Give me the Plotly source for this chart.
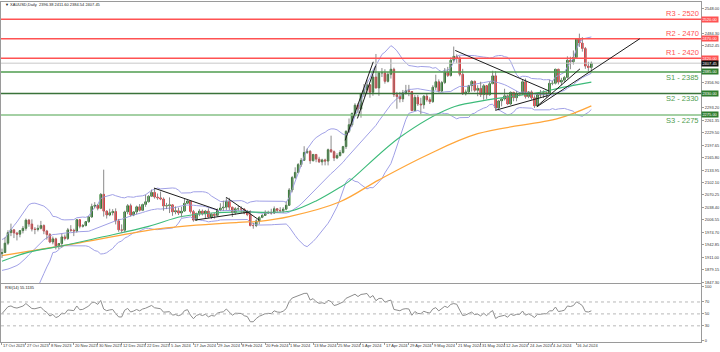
import plotly.graph_objects as go
import pandas as pd

# ---------------- data ----------------
date_labels = ["17 Oct 2023", "27 Oct 2023", "8 Nov 2023", "20 Nov 2023", "30 Nov 2023",
               "12 Dec 2023", "22 Dec 2023", "5 Jan 2024", "17 Jan 2024", "29 Jan 2024",
               "8 Feb 2024", "20 Feb 2024", "1 Mar 2024", "13 Mar 2024", "25 Mar 2024",
               "5 Apr 2024", "17 Apr 2024", "29 Apr 2024", "9 May 2024", "21 May 2024",
               "31 May 2024", "12 Jun 2024", "24 Jun 2024", "4 Jul 2024", "16 Jul 2024"]
label_step = 8

# closes before the first visible bar (needed for the 20-bar bands / RSI warm-up)
prior_closes = [1930, 1920, 1925, 1916, 1901, 1875, 1865, 1849, 1828, 1822,
                1821, 1820, 1833, 1861, 1861, 1874, 1869, 1932, 1920]
first_open = 1920.0

closes = [1923, 1947, 1974, 1981, 1973, 1970, 1979, 1985, 2006, 1996,
          1983, 1982, 1985, 1992, 1978, 1969, 1950, 1958, 1940, 1946,
          1963, 1959, 1981, 1980, 1978, 2007, 1990, 1992, 2002, 2014,
          2041, 2044, 2036, 2072, 2029, 2019, 2025, 2028, 2004, 1981,
          1980, 2027, 2043, 2019, 2027, 2040, 2031, 2046, 2053, 2067,
          2077, 2065, 2063, 2060, 2042, 2043, 2045, 2027, 2030, 2024,
          2029, 2049, 2055, 2028, 2006, 2023, 2029, 2022, 2029, 2014,
          2021, 2018, 2032, 2037, 2039, 2054, 2039, 2025, 2035, 2035,
          2034, 2024, 2020, 1992, 1992, 2004, 2013, 2018, 2024, 2025,
          2024, 2035, 2031, 2030, 2034, 2044, 2083, 2115, 2128, 2148,
          2159, 2179, 2182, 2158, 2174, 2162, 2155, 2160, 2157, 2186,
          2181, 2165, 2171, 2179, 2194, 2233, 2250, 2279, 2300, 2290,
          2330, 2339, 2352, 2333, 2372, 2344, 2383, 2383, 2361, 2379,
          2392, 2327, 2322, 2316, 2332, 2337, 2335, 2286, 2320, 2303,
          2301, 2323, 2314, 2309, 2346, 2360, 2336, 2358, 2385, 2376,
          2415, 2425, 2421, 2379, 2329, 2334, 2350, 2361, 2338, 2343,
          2327, 2350, 2327, 2355, 2375, 2293, 2311, 2316, 2324, 2303,
          2333, 2319, 2329, 2328, 2360, 2322, 2334, 2319, 2298, 2327,
          2326, 2332, 2330, 2356, 2356, 2392, 2359, 2364, 2371, 2415,
          2411, 2422, 2469, 2459, 2445, 2400, 2396.38, 2407.45]

highs = [1933, 1962, 1980, 1997, 1983, 1976, 1980, 1991, 2010, 2009,
         2008, 1988, 1994, 2004, 1995, 1981, 1973, 1964, 1961, 1947,
         1971, 1969, 1986, 1993, 1984, 2008, 2007, 1996, 2003, 2017,
         2048, 2052, 2047, 2075, 2135, 2031, 2035, 2034, 2036, 2009,
         1995, 2030, 2047, 2048, 2029, 2043, 2047, 2048, 2071, 2070,
         2084, 2088, 2074, 2079, 2064, 2050, 2064, 2046, 2041, 2038,
         2040, 2062, 2058, 2057, 2032, 2025, 2034, 2033, 2032, 2036,
         2024, 2025, 2036, 2049, 2056, 2065, 2063, 2040, 2039, 2043,
         2041, 2037, 2032, 2031, 1999, 2008, 2016, 2022, 2031, 2030,
         2035, 2041, 2037, 2039, 2039, 2053, 2088, 2119, 2141, 2152,
         2165, 2195, 2189, 2185, 2175, 2175, 2168, 2163, 2163, 2189,
         2222, 2184, 2177, 2185, 2196, 2236, 2266, 2281, 2305, 2305,
         2331, 2354, 2365, 2354, 2378, 2431, 2386, 2395, 2392, 2385,
         2418, 2396, 2334, 2334, 2339, 2352, 2352, 2336, 2326, 2326,
         2319, 2326, 2331, 2320, 2351, 2378, 2366, 2362, 2395, 2398,
         2422, 2450, 2430, 2426, 2393, 2340, 2352, 2364, 2363, 2351,
         2360, 2354, 2350, 2360, 2388, 2387, 2313, 2318, 2342, 2327,
         2335, 2334, 2336, 2333, 2366, 2368, 2336, 2338, 2325, 2331,
         2339, 2338, 2335, 2365, 2363, 2393, 2393, 2370, 2375, 2425,
         2424, 2440, 2470, 2483, 2474, 2449, 2411, 2411.60]

lows = [1909, 1922, 1942, 1965, 1960, 1954, 1962, 1972, 1979, 1989,
        1977, 1970, 1977, 1982, 1970, 1956, 1947, 1944, 1931, 1932,
        1935, 1954, 1955, 1976, 1965, 1974, 1985, 1987, 1990, 1999,
        2012, 2036, 2031, 2034, 2015, 2010, 2016, 2018, 1995, 1976,
        1973, 1975, 2021, 2015, 2016, 2021, 2028, 2029, 2040, 2051,
        2065, 2061, 2058, 2057, 2030, 2034, 2024, 2017, 2021, 2019,
        2013, 2028, 2048, 2023, 2002, 2007, 2016, 2018, 2011, 2012,
        2009, 2010, 2015, 2029, 2030, 2032, 2032, 2014, 2020, 2030,
        2024, 2021, 2016, 1990, 1984, 1988, 1995, 2011, 2017, 2022,
        2020, 2022, 2025, 2026, 2025, 2031, 2043, 2077, 2111, 2126,
        2142, 2158, 2175, 2150, 2156, 2154, 2152, 2146, 2146, 2146,
        2178, 2157, 2162, 2169, 2176, 2188, 2229, 2245, 2271, 2280,
        2268, 2321, 2328, 2319, 2324, 2343, 2324, 2372, 2355, 2358,
        2368, 2321, 2291, 2307, 2308, 2327, 2323, 2285, 2285, 2298,
        2277, 2291, 2309, 2303, 2306, 2339, 2333, 2335, 2354, 2372,
        2373, 2411, 2408, 2374, 2326, 2325, 2331, 2335, 2334, 2323,
        2321, 2314, 2316, 2324, 2354, 2286, 2287, 2297, 2312, 2301,
        2302, 2310, 2310, 2323, 2327, 2317, 2318, 2314, 2293, 2298,
        2319, 2318, 2319, 2327, 2351, 2353, 2353, 2351, 2358, 2368,
        2392, 2404, 2420, 2449, 2437, 2393, 2384, 2384.54]

# moving averages (bar index, price)
ma_slow_idx = [0, 26, 53, 79, 86, 96, 113, 126, 142, 159, 186, 197]
ma_slow_val = [1915, 1948, 1984, 2000, 2003, 2015, 2053, 2109, 2172, 2227, 2266, 2298]
ma_fast_idx = [0, 9, 20, 33, 49, 60, 70, 80, 90, 97, 105, 113, 116, 133, 150, 159, 170, 180, 187, 197]
ma_fast_val = [1901, 1924, 1940, 1962, 1990, 2015, 2024, 2027, 2026, 2030, 2055, 2090, 2105, 2218,
               2293, 2309, 2322, 2333, 2345, 2359]

# support / resistance
levels = [2520, 2470, 2420, 2385, 2330, 2275]
level_names = ["R3 - 2520", "R2 - 2470", "R1 - 2420", "S1 - 2385", "S2 - 2330", "S3 - 2275"]
level_kind = ["R", "R", "R", "S", "S", "S"]

# analyst trend lines: (bar0, price0, bar1, price1)
trend_lines = [
    (50.8, 2088, 72.1, 2032),
    (64.5, 2006, 83.0, 2027),
    (75.0, 2064, 86.0, 2006),
    (114.7, 2210, 124.1, 2411),
    (118.8, 2266, 124.9, 2401),
    (151.5, 2440, 183.0, 2336),
    (165.0, 2287, 182.7, 2325),
    (178.8, 2296, 213.2, 2470),
    (178.8, 2297, 193.2, 2393),
]

price_ticks = ["1847.30", "1879.15", "1911.00", "1942.85", "1974.70", "2006.55", "2038.40",
               "2070.25", "2102.10", "2133.95", "2165.80", "2197.65", "2229.50", "2261.35",
               "2293.20", "2325.05", "2356.90", "2388.75", "2420.60", "2452.45", "2484.30",
               "2516.15", "2548.00"]
rsi_tick_text = ["100", "70", "50", "30", "0"]
rsi_levels = [70, 50, 30]
symbol = "XAUUSD,Daily"
rsi_title = "RSI(14) 55.1135"

# ---------------- derived ----------------
n = len(closes)
xs = list(range(n))
opens = [first_open] + closes[:-1]
k = len(prior_closes)
full = pd.Series(prior_closes + closes, dtype=float)
mid = full.rolling(20).mean()
sd = full.rolling(20).std(ddof=0)
bb_mid = mid.iloc[k:].tolist()
bb_up = (mid + 2 * sd).iloc[k:].tolist()
bb_lo = (mid - 2 * sd).iloc[k:].tolist()
d = full.diff()
ag = d.clip(lower=0).ewm(alpha=1 / 14, adjust=False).mean()
al = (-d).clip(lower=0).ewm(alpha=1 / 14, adjust=False).mean()
rsi = (100 - 100 / (1 + ag / al)).iloc[k:].tolist()

# ---------------- styling ----------------
W, H = 720, 352
FONT = "Liberation Sans, Arial, sans-serif"
GREEN_C = "#177317"
RED_C = "#e3262b"
WICK = "#8a8a8a"
BB_C = "#a0a0e6"
FAST_C = "#3dbb7a"
SLOW_C = "#ffa63a"
R_C = "#ff5252"
S_LINE = ["#4f9d4f", "#3a733a", "#86c086"]
S_TEXT = "#4f9d4f"
FRAME = "#9a9a9a"

def py(p):
    return 1 - p / H

x_dom = [1 / W, 703 / W]
main_dom = [py(284), py(1)]
rsi_dom = [py(343), py(285)]
x_rng = [-0.33, 233.67]

# price labels hidden behind the coloured level boxes on the axis (as in the terminal)
boxed = levels + [closes[-1]]
shown_ticks = [t for t in price_ticks if all(abs(float(t) - b) > 13 for b in boxed)]

fig = go.Figure()

for vals in (bb_up, bb_mid, bb_lo):
    fig.add_trace(go.Scatter(x=xs, y=vals, mode="lines", line=dict(color=BB_C, width=1),
                             hoverinfo="skip"))
fig.add_trace(go.Scatter(x=ma_slow_idx, y=ma_slow_val, mode="lines",
                         line=dict(color=SLOW_C, width=1.3, shape="spline"), hoverinfo="skip"))
fig.add_trace(go.Scatter(x=ma_fast_idx, y=ma_fast_val, mode="lines",
                         line=dict(color=FAST_C, width=1.1, shape="spline"), hoverinfo="skip"))

wx, wy = [], []
for i in xs:
    wx += [i, i, None]
    wy += [min(lows[i], opens[i], closes[i]), max(highs[i], opens[i], closes[i]), None]
fig.add_trace(go.Scatter(x=wx, y=wy, mode="lines", line=dict(color=WICK, width=1),
                         hoverinfo="skip"))

fig.add_trace(go.Candlestick(
    x=xs, open=opens, close=closes,
    high=[max(o, c) for o, c in zip(opens, closes)],
    low=[min(o, c) for o, c in zip(opens, closes)],
    increasing=dict(line=dict(color=GREEN_C, width=1), fillcolor=GREEN_C),
    decreasing=dict(line=dict(color=RED_C, width=1), fillcolor=RED_C),
    whiskerwidth=0, hoverinfo="skip"))

fig.add_trace(go.Scatter(x=xs, y=rsi, mode="lines", line=dict(color="#8c8c8c", width=1),
                         xaxis="x2", yaxis="y2", hoverinfo="skip"))

shapes = []
annotations = []

# S/R lines
s_idx = 0
for lvl, name, kind in zip(levels, level_names, level_kind):
    if kind == "R":
        col, tcol = R_C, R_C
    else:
        col, tcol = S_LINE[s_idx], S_TEXT
        s_idx += 1
    shapes.append(dict(type="line", xref="x domain", x0=0, x1=1, yref="y", y0=lvl, y1=lvl,
                       line=dict(color=col, width=1.5)))
    annotations.append(dict(text=name, xref="x domain", x=1, xanchor="right", xshift=-1,
                            yref="y", y=lvl, yanchor="bottom" if kind == "R" else "top",
                            showarrow=False, font=dict(family=FONT, size=7.5, color=tcol),
                            borderpad=0))
    annotations.append(dict(text=f"{lvl:.2f}", xref="paper", x=703 / W, xanchor="left",
                            yref="y", y=lvl, yanchor="middle", showarrow=False,
                            bgcolor=col if kind == "R" else "#2f7d2f",
                            font=dict(family=FONT, size=4, color="white"),
                            width=16, height=5, borderpad=0))

# current price line + box
last = closes[-1]
shapes.append(dict(type="line", xref="x domain", x0=0, x1=1, yref="y", y0=last, y1=last,
                   line=dict(color="#c8c8c8", width=1)))
annotations.append(dict(text=f"{last:.2f}", xref="paper", x=703 / W, xanchor="left",
                        yref="y", y=last, yanchor="middle", showarrow=False, bgcolor="#111111",
                        font=dict(family=FONT, size=4, color="white"), width=16, height=5,
                        borderpad=0))

# trend lines
for (a0, p0, a1, p1) in trend_lines:
    shapes.append(dict(type="line", xref="x", yref="y", x0=a0, y0=p0, x1=a1, y1=p1,
                       line=dict(color="#1c1c1c", width=1)))

# RSI levels
for lv in rsi_levels:
    shapes.append(dict(type="line", xref="x2 domain", x0=0, x1=1, yref="y2", y0=lv, y1=lv,
                       line=dict(color="#b8b8b8", width=1, dash="dot")))

# header and RSI title
header = f"\u25bc {symbol}  {opens[-1]:.2f} {highs[-1]:.2f} {lows[-1]:.2f} {closes[-1]:.2f}"
annotations.append(dict(text=header, xref="paper", x=3 / W, xanchor="left", yref="paper",
                        y=py(4), yanchor="middle", showarrow=False,
                        font=dict(family=FONT, size=4, color="#222222")))
annotations.append(dict(text=rsi_title, xref="paper", x=3 / W, xanchor="left", yref="paper",
                        y=py(288), yanchor="middle", showarrow=False,
                        font=dict(family=FONT, size=4, color="#222222")))

# date labels
for j, lab in enumerate(date_labels):
    annotations.append(dict(text=lab, xref="x2", x=j * label_step, xanchor="left", xshift=-1,
                            yref="paper", y=py(346.5), yanchor="middle", showarrow=False,
                            font=dict(family=FONT, size=4, color="#333333")))

fig.update_layout(
    width=W, height=H, margin=dict(l=0, r=0, t=0, b=0),
    paper_bgcolor="white", plot_bgcolor="white", showlegend=False,
    font=dict(family=FONT, size=4, color="#333333"),
    xaxis=dict(domain=x_dom, range=x_rng, anchor="y", showticklabels=False, showgrid=False,
               zeroline=False, rangeslider=dict(visible=False), showline=True,
               linecolor=FRAME, linewidth=1, mirror=True, fixedrange=True),
    yaxis=dict(domain=main_dom, range=[1844.1, 2564.0], anchor="x", side="right",
               tickvals=[float(t) for t in shown_ticks], ticktext=shown_ticks,
               tickfont=dict(family=FONT, size=4, color="#333333"), ticks="outside",
               ticklen=2, tickcolor=FRAME, showgrid=False, zeroline=False, showline=True,
               linecolor=FRAME, linewidth=1, mirror=True),
    xaxis2=dict(domain=x_dom, range=x_rng, anchor="y2", showticklabels=False,
                tickvals=[j * label_step for j in range(len(date_labels))], ticks="outside",
                ticklen=2, tickcolor=FRAME, showgrid=False, zeroline=False, showline=True,
                linecolor=FRAME, linewidth=1, mirror=True),
    yaxis2=dict(domain=rsi_dom, range=[2.8, 99.5], anchor="x2", side="right",
                tickvals=[96, 70, 50, 30, 5], ticktext=rsi_tick_text,
                tickfont=dict(family=FONT, size=4, color="#333333"), ticks="outside",
                ticklen=2, tickcolor=FRAME, showgrid=False, zeroline=False, showline=True,
                linecolor=FRAME, linewidth=1, mirror=True),
    shapes=shapes, annotations=annotations,
)

fig.write_html("out.html")
